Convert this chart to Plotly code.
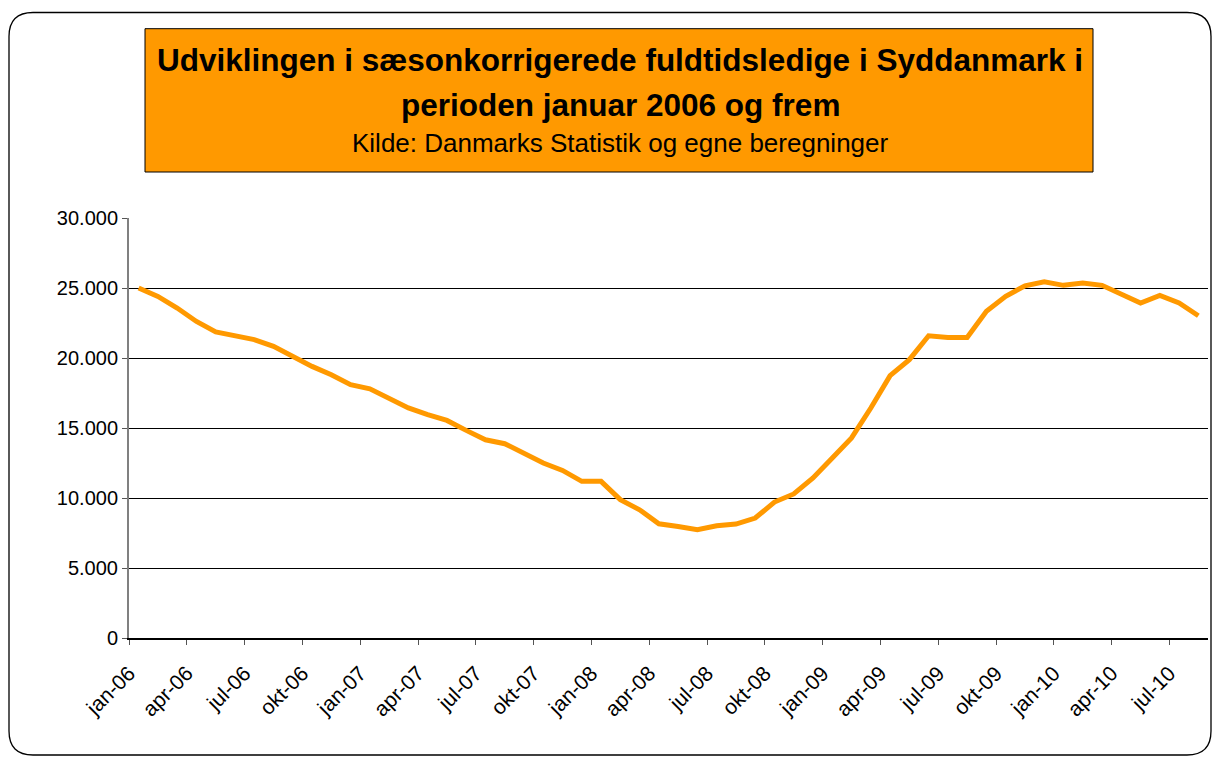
import plotly.graph_objects as go

month_names = ["jan", "feb", "mar", "apr", "maj", "jun", "jul", "aug", "sep", "okt", "nov", "dec"]
years = ["06", "07", "08", "09", "10"]
months = [f"{m}-{y}" for y in years for m in month_names][:56]

ledige = [
    25000, 24400, 23570, 22610, 21860, 21590, 21310, 20830, 20120, 19400, 18810, 18090,
    17800, 17140, 16430, 15950, 15540, 14830, 14160, 13880, 13160, 12500, 11970, 11190,
    11190, 9880, 9160, 8160, 7970, 7740, 8020, 8140, 8570, 9710, 10290, 11430,
    12860, 14290, 16430, 18740, 19880, 21590, 21470, 21470, 23330, 24400, 25160, 25450,
    25190, 25360, 25190, 24590, 23930, 24470, 23930, 23020,
]

title_line1 = "Udviklingen i sæsonkorrigerede fuldtidsledige i Syddanmark i"
title_line2 = "perioden januar 2006 og frem"
subtitle = "Kilde: Danmarks Statistik og egne beregninger"

y_ticks = [0, 5000, 10000, 15000, 20000, 25000, 30000]
y_ticktext = ["0", "5.000", "10.000", "15.000", "20.000", "25.000", "30.000"]

W, H = 1213, 757
ML, MR, MT, MB = 129, 5, 218, 119
PW, PH = W - ML - MR, H - MT - MB

def px(x):
    return (x - ML) / PW

def py(y):
    return (H - MB - y) / PH

idx = list(range(len(months)))
tick_idx = list(range(0, len(months), 3))

fig = go.Figure()
fig.add_trace(go.Scatter(
    x=idx, y=ledige, mode="lines",
    line=dict(color="#FF9900", width=5),
    hoverinfo="skip", showlegend=False,
))

# rounded outer border
x0, y0, x1, y1, r = 9, 12.5, 1211, 755, 24
path = (
    f"M {px(x0+r)},{py(y0)} L {px(x1-r)},{py(y0)} Q {px(x1)},{py(y0)} {px(x1)},{py(y0+r)} "
    f"L {px(x1)},{py(y1-r)} Q {px(x1)},{py(y1)} {px(x1-r)},{py(y1)} "
    f"L {px(x0+r)},{py(y1)} Q {px(x0)},{py(y1)} {px(x0)},{py(y1-r)} "
    f"L {px(x0)},{py(y0+r)} Q {px(x0)},{py(y0)} {px(x0+r)},{py(y0)} Z"
)
shapes = [
    dict(type="path", xref="paper", yref="paper", path=path,
         line=dict(color="black", width=1.3), layer="below"),
    dict(type="rect", xref="paper", yref="paper",
         x0=px(145), x1=px(1093), y0=py(172), y1=py(28.7),
         fillcolor="#FF9900", line=dict(color="black", width=1), layer="below"),
]

annotations = [
    dict(text=f"<b>{title_line1}</b>", x=px(620), y=py(60), xref="paper", yref="paper",
         showarrow=False, xanchor="center", yanchor="middle",
         font=dict(family="Liberation Sans, Arial", size=31.5, color="black")),
    dict(text=f"<b>{title_line2}</b>", x=px(620), y=py(105), xref="paper", yref="paper",
         showarrow=False, xanchor="center", yanchor="middle",
         font=dict(family="Liberation Sans, Arial", size=31.5, color="black")),
    dict(text=subtitle, x=px(620), y=py(143), xref="paper", yref="paper",
         showarrow=False, xanchor="center", yanchor="middle",
         font=dict(family="Liberation Sans, Arial", size=26, color="black")),
]

fig.update_layout(
    width=W, height=H,
    margin=dict(l=ML, r=MR, t=MT, b=MB),
    paper_bgcolor="white", plot_bgcolor="white",
    shapes=shapes, annotations=annotations,
    font=dict(family="Liberation Sans, Arial", color="black"),
)
fig.update_xaxes(
    range=[-0.5, len(months) - 0.5],
    tickmode="array",
    tickvals=[i - 0.5 for i in tick_idx],
    ticktext=[months[i] for i in tick_idx],
    tickangle=-45,
    ticks="outside", ticklen=5, tickcolor="#555555",
    ticklabelstandoff=8,
    tickfont=dict(size=21, family="Liberation Sans, Arial", color="black"),
    showgrid=False, zeroline=False,
    showline=True, linecolor="black", linewidth=1.5,
)
fig.update_yaxes(
    range=[0, 30000],
    tickmode="array", tickvals=y_ticks, ticktext=y_ticktext,
    ticks="outside", ticklen=5, tickcolor="#555555",
    tickfont=dict(size=20, family="Liberation Sans, Arial", color="black"),
    showgrid=True, gridcolor="black", gridwidth=1,
    zeroline=False,
    showline=True, linecolor="#808080", linewidth=2,
)

fig.write_html("out.html")
